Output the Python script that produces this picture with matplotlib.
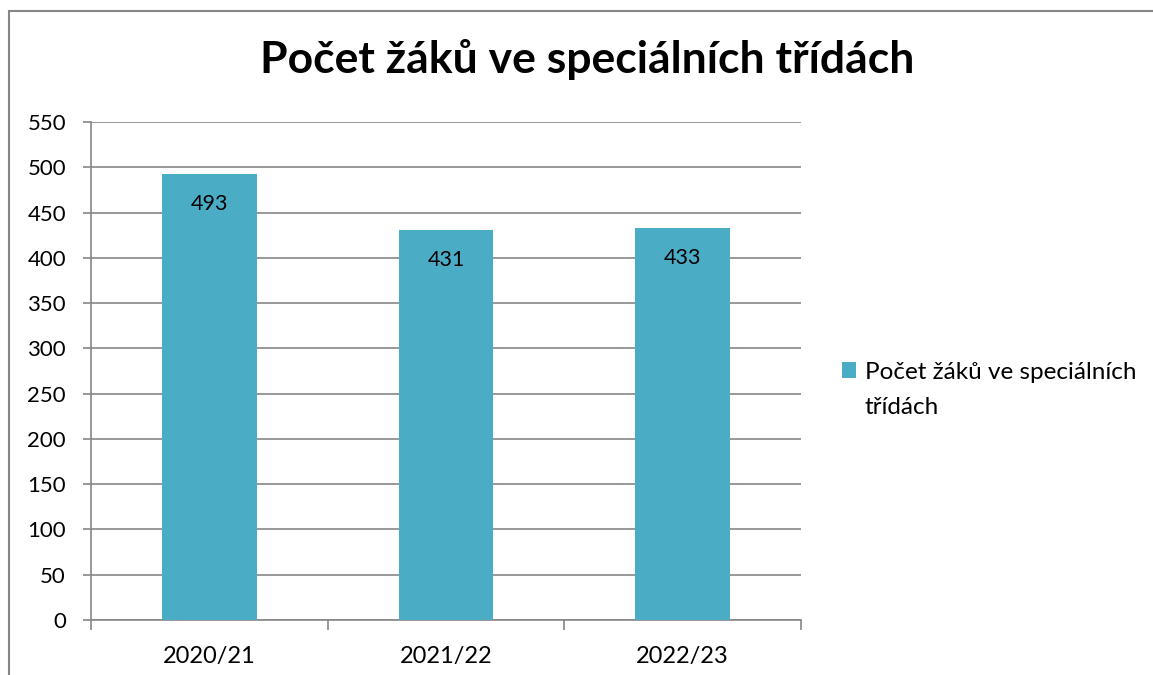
import matplotlib.pyplot as plt
from matplotlib.patches import Rectangle

# data
years = ["2020/21", "2021/22", "2022/23"]
students = [493, 431, 433]
series_name = "Počet žáků ve speciálních třídách"

plt.rcParams['font.family'] = ['Lato', 'DejaVu Sans']

W, H = 1153, 675
fig = plt.figure(figsize=(W / 100, H / 100), dpi=100)

# outer chart border (gray frame, cut off at right/bottom)
fig.patches.append(Rectangle((9 / W, -0.1), 1.2, (H - 11) / H + 0.1,
                             transform=fig.transFigure, fill=False,
                             edgecolor='#868686', linewidth=1.5))

ax = fig.add_axes([91 / W, 55 / H, 710 / W, 498 / H])
x = range(len(years))
bars = ax.bar(x, students, width=0.4, color='#4BACC6', zorder=3,
              label="Počet žáků ve speciálních\ntřídách")

for rect, v in zip(bars, students):
    ax.annotate(str(v), (rect.get_x() + rect.get_width() / 2, v),
                xytext=(0, -22), textcoords='offset points',
                ha='center', va='center', fontsize=15.5, color='black', zorder=4)

ax.set_xlim(-0.5, 2.5)
ax.set_ylim(0, 550)
ax.set_yticks(range(0, 551, 50))
ax.set_xticks(list(x))
ax.set_xticklabels(years)
ax.grid(axis='y', color='#868686', linewidth=1.2, zorder=0)

for s in ['top', 'right']:
    ax.spines[s].set_visible(False)
ax.spines['left'].set_color('#868686')
ax.spines['bottom'].set_color('#868686')
ax.spines['left'].set_linewidth(1.2)
ax.spines['bottom'].set_linewidth(1.2)

ax.tick_params(axis='y', length=6, width=1.2, color='#868686', labelsize=16, pad=12)
ax.tick_params(axis='x', length=0, labelsize=17, pad=19)
# category separator ticks on the x axis
ax.set_xticks([-0.5, 0.5, 1.5, 2.5], minor=True)
ax.tick_params(axis='x', which='minor', length=7, width=1.2, color='#868686')

fig.text(587 / W, 1 - 60 / H, series_name, ha='center', va='center',
         fontsize=32, fontweight='bold')

leg = ax.legend(loc='center left', bbox_to_anchor=(832 / 710 - 91 / 710, 0.462),
                frameon=False, fontsize=17.5, handlelength=0.6, handleheight=0.6,
                handletextpad=0.35, borderaxespad=0)
for t in leg.get_texts():
    t.set_linespacing(1.8)
# put the colour square next to the first line of the label
for row in leg._legend_handle_box.get_children():
    for item in row.get_children():
        item.align = 'top'

fig.savefig('out.png', dpi=100)
